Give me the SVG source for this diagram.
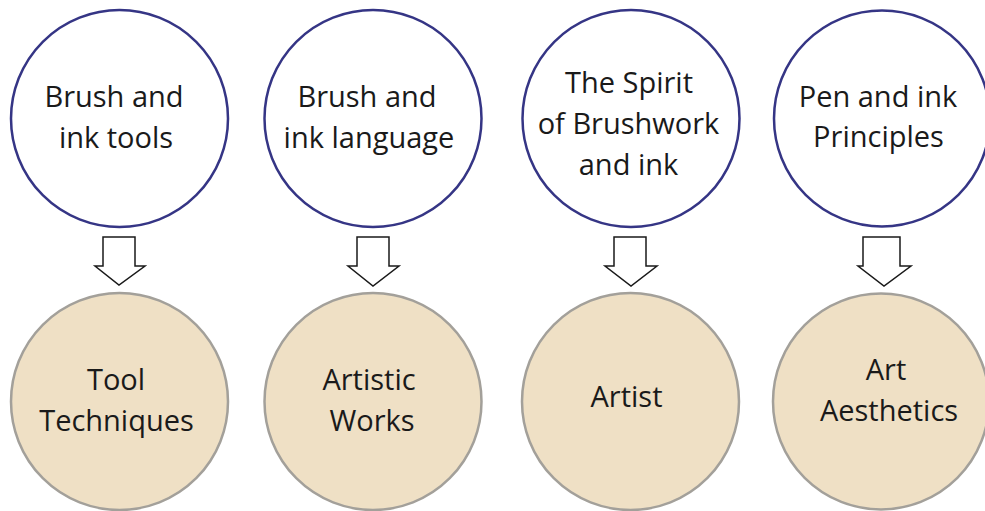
<svg xmlns="http://www.w3.org/2000/svg" width="985" height="511" viewBox="0 0 985 511">
<style>
.top{fill:#ffffff;stroke:#353585;stroke-width:2.5}
.bot{fill:#efe0c5;stroke:#a3a09a;stroke-width:2.5}
.t{font-family:"Open Sans","Noto Sans",sans-serif;font-size:29px;fill:#1a1a1a;text-anchor:middle}
.arr{fill:#ffffff;stroke:#1a1a1a;stroke-width:1.5;stroke-linejoin:miter}
</style>
<rect width="985" height="511" fill="#ffffff"/>
<g id="n1"><circle class="top" cx="119.5" cy="118.5" r="108.5"/><text class="t" x="114" y="107">Brush and</text><text class="t" x="116" y="148">ink tools</text></g>
<g id="n2"><circle class="top" cx="373" cy="118.5" r="108.5"/><text class="t" x="367" y="107">Brush and</text><text class="t" x="369" y="148">ink language</text></g>
<g id="n3"><circle class="top" cx="631" cy="118.5" r="108.5"/><text class="t" x="629" y="93">The Spirit</text><text class="t" x="628.5" y="134">of Brushwork</text><text class="t" x="628.5" y="175">and ink</text></g>
<g id="n4"><circle class="top" cx="882" cy="118.5" r="108"/><text class="t" x="878" y="107">Pen and ink</text><text class="t" x="878.5" y="147">Principles</text></g>
<g id="m1"><circle class="bot" cx="119.5" cy="401.5" r="108.5"/><text class="t" x="116" y="390">Tool</text><text class="t" x="116.5" y="431">Techniques</text></g>
<g id="m2"><circle class="bot" cx="373" cy="401.5" r="108.5"/><text class="t" x="369" y="390">Artistic</text><text class="t" x="372" y="431">Works</text></g>
<g id="m3"><circle class="bot" cx="630.5" cy="401.5" r="108.5"/><text class="t" x="626.5" y="407">Artist</text></g>
<g id="m4"><circle class="bot" cx="881" cy="401.5" r="108"/><text class="t" x="886" y="380">Art</text><text class="t" x="889" y="421">Aesthetics</text></g>
<g id="connectors">
<path class="arr" d="M103 237 H135 V266 H145 L119 285 L95 266 H103 Z"/>
<path class="arr" d="M357 237 H389 V266 H399 L373 286 L348 266 H357 Z"/>
<path class="arr" d="M614 237 H646 V266 H657 L631 286 L605 266 H614 Z"/>
<path class="arr" d="M863 237 H900 V266 H911 L884 286 L858 266 H863 Z"/>
</g>
</svg>
